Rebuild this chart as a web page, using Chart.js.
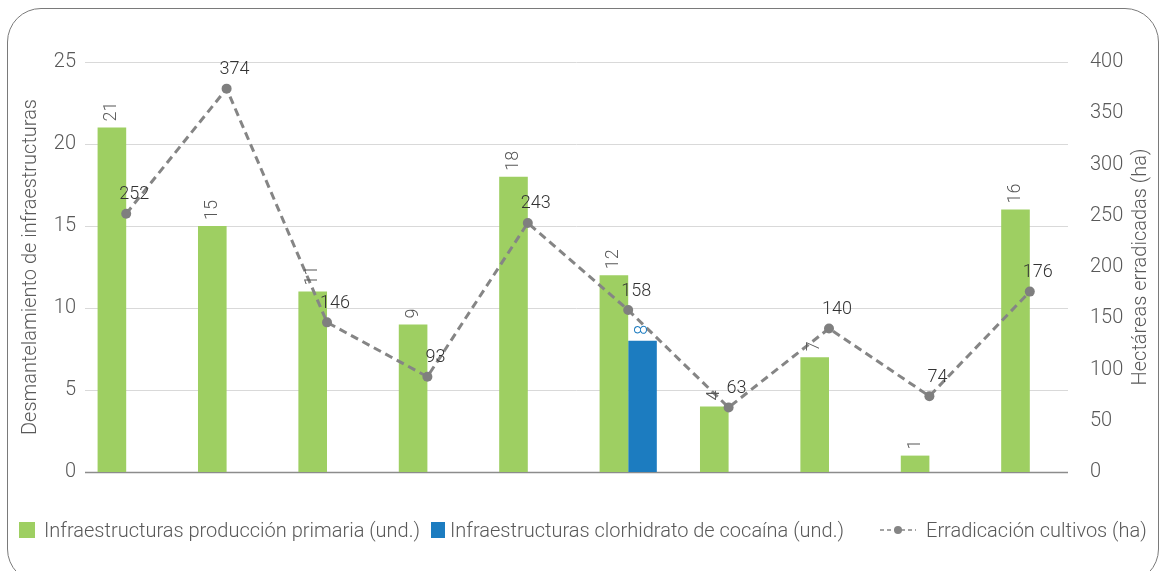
<!DOCTYPE html>
<html>
<head>
<meta charset="utf-8">
<script src="https://cdn.jsdelivr.net/npm/chart.js@4"></script>
<style>
    body { margin: 0; background: #fff; font-family: Roboto, "Liberation Sans", sans-serif; }
    #wrap { position: relative; width: 1164px; height: 571px; overflow: hidden; }
    #frame { position: absolute; left: 7px; top: 8px; width: 1152px; height: 575px; border: 1.5px solid #7a7a7a; border-radius: 34px; box-sizing: border-box; pointer-events: none; }
    canvas { position: absolute; left: 0; top: 0; }
    .item { position: absolute; top: 518px; height: 24px; display: flex; align-items: center; font-size: 20px; font-weight: 300; color: #595959; white-space: nowrap; }
    .box { width: 16px; height: 16px; margin-right: 9px; }
</style>
</head>
<body>
<div id="wrap">
    <canvas id="chart" width="1164" height="571"></canvas>
    <div id="frame"></div>
    <div class="item" style="left:19px"><span class="box" style="background:#9ecf62"></span>Infraestructuras producción primaria (und.)</div>
    <div class="item" style="left:431px"><span class="box" style="background:#1c7cc0;width:14px;margin-right:5px"></span>Infraestructuras clorhidrato de cocaína (und.)</div>
    <div class="item" style="left:879px">
        <svg width="38" height="12" style="margin-right:9px"><line x1="1" y1="6" x2="37" y2="6" stroke="#858585" stroke-width="1.5" stroke-dasharray="4,3"/><circle cx="19" cy="6" r="4" fill="#858585"/></svg>Erradicación cultivos (ha)</div>
</div>
<script>
// Datos
let categorias = ['1', '2', '3', '4', '5', '6', '7', '8', '9', '10'];
let produccionPrimaria = [21, 15, 11, 9, 18, 12, 4, 7, 1, 16];
let clorhidrato = [null, null, null, null, null, 8, null, null, null, null];
let erradicacion = [252, 374, 146, 93, 243, 158, 63, 140, 74, 176];
let ticksIzq = [0, 5, 10, 15, 20, 25];

let fuente = 'Roboto, "Liberation Sans", sans-serif';

// Lineas de cuadricula (mas cortas que el area de barras, como en el original)
let cuadricula = {
    id: 'cuadricula',
    beforeDatasetsDraw(chart) {
        let ctx = chart.ctx;
        let y = chart.scales.y;
        ctx.save();
        ticksIzq.forEach(v => {
            let py = Math.round(y.getPixelForValue(v)) + 0.5;
            ctx.beginPath();
            ctx.strokeStyle = v === 0 ? '#8c8c8c' : '#d9d9d9';
            ctx.lineWidth = v === 0 ? 1.5 : 1;
            ctx.moveTo(85, py);
            ctx.lineTo(1068, py);
            ctx.stroke();
        });
        ctx.restore();
    }
};

// Etiquetas de valores y titulos de ejes
let etiquetas = {
    id: 'etiquetas',
    afterDatasetsDraw(chart) {
        let ctx = chart.ctx;
        ctx.save();
        chart.data.datasets.forEach((ds, i) => {
            let meta = chart.getDatasetMeta(i);
            meta.data.forEach((el, j) => {
                let v = ds.data[j];
                if (v === null) return;
                if (ds.type === 'line') {
                    ctx.font = '300 18px ' + fuente;
                    ctx.fillStyle = '#333';
                    ctx.textAlign = 'center';
                    ctx.textBaseline = 'middle';
                    ctx.fillText(v, el.x + 8, el.y - 19);
                } else {
                    ctx.save();
                    ctx.translate(el.x, el.y - 6);
                    ctx.rotate(-Math.PI / 2);
                    ctx.font = '300 18px ' + fuente;
                    ctx.fillStyle = i === 1 ? '#1c7cc0' : '#595959';
                    ctx.textAlign = 'left';
                    ctx.textBaseline = 'middle';
                    ctx.fillText(v, 0, 0);
                    ctx.restore();
                }
            });
        });
        ctx.restore();
    },
    afterDraw(chart) {
        let ctx = chart.ctx;
        let midY = (chart.chartArea.top + chart.chartArea.bottom) / 2;
        ctx.save();
        ctx.font = '300 20px ' + fuente;
        ctx.fillStyle = '#595959';
        ctx.textAlign = 'center';
        ctx.textBaseline = 'middle';
        ctx.translate(31, midY);
        ctx.rotate(-Math.PI / 2);
        ctx.fillText('Desmantelamiento de infraestructuras', 0, 0);
        ctx.restore();
        ctx.save();
        ctx.font = '300 20px ' + fuente;
        ctx.fillStyle = '#595959';
        ctx.textAlign = 'center';
        ctx.textBaseline = 'middle';
        ctx.translate(1141, midY);
        ctx.rotate(-Math.PI / 2);
        ctx.fillText('Hectáreas erradicadas (ha)', 0, 0);
        ctx.restore();
    }
};

let ctx = document.getElementById('chart').getContext('2d');
let grafico = new Chart(ctx, {
    type: 'bar',
    data: {
        labels: categorias,
        datasets: [
            {
                label: 'Infraestructuras producción primaria (und.)',
                data: produccionPrimaria,
                backgroundColor: '#9ecf62',
                yAxisID: 'y',
                order: 2
            },
            {
                label: 'Infraestructuras clorhidrato de cocaína (und.)',
                data: clorhidrato,
                backgroundColor: '#1c7cc0',
                yAxisID: 'y',
                order: 2
            },
            {
                type: 'line',
                label: 'Erradicación cultivos (ha)',
                data: erradicacion,
                borderColor: '#858585',
                backgroundColor: '#858585',
                borderWidth: 3,
                borderDash: [8, 5],
                pointRadius: 5,
                pointBackgroundColor: '#7f7f7f',
                pointBorderWidth: 0,
                fill: false,
                tension: 0,
                yAxisID: 'y1',
                order: 0
            }
        ]
    },
    options: {
        responsive: false,
        animation: false,
        categoryPercentage: 0.57,
        barPercentage: 1,
        layout: { padding: { top: 62, bottom: 99, left: 0, right: 0 } },
        plugins: {
            legend: { display: false },
            tooltip: { enabled: false }
        },
        scales: {
            x: { display: false },
            y: {
                position: 'left',
                min: 0,
                max: 25,
                ticks: { stepSize: 5, padding: 0, color: '#595959', font: { family: fuente, size: 20, weight: 300 } },
                grid: { display: false, drawTicks: false },
                border: { display: false },
                afterFit: s => { s.width = 76; }
            },
            y1: {
                position: 'right',
                min: 0,
                max: 400,
                ticks: { stepSize: 50, padding: 10, color: '#595959', font: { family: fuente, size: 20, weight: 300 } },
                grid: { display: false, drawTicks: false },
                border: { display: false },
                afterFit: s => { s.width = 84; }
            }
        }
    },
    plugins: [cuadricula, etiquetas]
});
</script>
</body>
</html>
